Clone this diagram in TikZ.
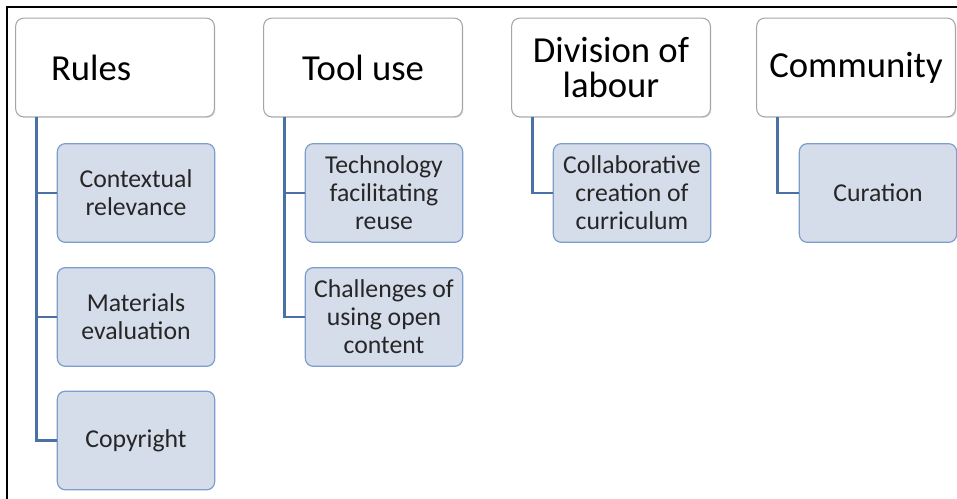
\documentclass[tikz,border=0pt]{standalone}
\usepackage{fontspec}
\setmainfont{Carlito}
\usetikzlibrary{shadows}

\definecolor{headline}{RGB}{166,166,166}
\definecolor{itemfill}{RGB}{214,221,234}
\definecolor{itemline}{RGB}{124,158,205}
\definecolor{linkblue}{RGB}{74,113,166}

\begin{document}
\begin{tikzpicture}[x=0.75pt, y=-0.75pt,
    headbox/.style={draw=headline, fill=white, rounded corners=6pt, line width=0.8pt,
        minimum width=149pt, minimum height=74pt, align=center,
        font=\fontsize{27.5}{26}\selectfont,
        drop shadow={shadow xshift=0.8pt, shadow yshift=-0.8pt, opacity=0.25}},
    itembox/.style={draw=itemline, fill=itemfill, rounded corners=6pt, line width=0.9pt,
        minimum width=118pt, minimum height=74pt, align=center, text=black!85,
        font=\fontsize{19.3}{21}\selectfont},
    link/.style={draw=linkblue, line width=2.2pt}]
        \useasboundingbox (0,0) rectangle (957,499);

        % Frame round the figure
        \draw[line width=1.6pt] (7,499) -- (7,7) -- (957,7);

        % Activity system elements
        \node[headbox] (rules) at (115, 67.5) {Rules\hspace*{1.3em}};
        \node[headbox] (tools) at (363, 67.5) {Tool use};
        \node[headbox] (labour) at (611, 67.5) {Division of\\labour};
        \node[headbox] (community) at (856, 67.5) {Community};

        % Themes under each element
        \node[itembox] (context) at (136, 193) {Contextual\\relevance};
        \node[itembox] (evaluation) at (136, 317) {Materials\\evaluation};
        \node[itembox] (copyright) at (136, 440.5) {Copyright};
        \node[itembox] (reuse) at (384, 193) {Technology\\facilitating\\reuse};
        \node[itembox] (challenges) at (384, 317) {Challenges of\\using open\\content};
        \node[itembox] (curriculum) at (632, 193) {Collaborative\\creation of\\curriculum};
        \node[itembox] (curation) at (878, 193) {Curation};

        % Connectors
        \draw[link] ([xshift=15.75pt]rules.south west) |- (copyright.west);
        \draw[link] ([xshift=15.75pt]rules.south west) |- (evaluation.west);
        \draw[link] ([xshift=15.75pt]rules.south west) |- (context.west);
        \draw[link] ([xshift=15.75pt]tools.south west) |- (challenges.west);
        \draw[link] ([xshift=15.75pt]tools.south west) |- (reuse.west);
        \draw[link] ([xshift=15.75pt]labour.south west) |- (curriculum.west);
        \draw[link] ([xshift=15.75pt]community.south west) |- (curation.west);

\end{tikzpicture}
\end{document}
